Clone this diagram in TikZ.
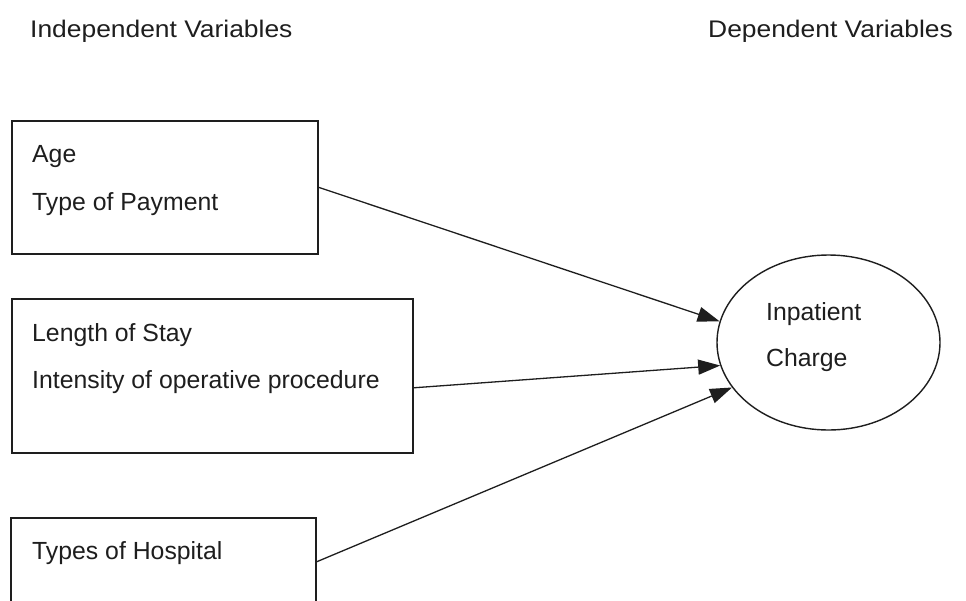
\documentclass[tikz,border=0pt]{standalone}
\usepackage{fontspec}
\setmainfont{Liberation Sans}
\newfontfamily\hdrfont[FakeStretch=1.1]{Liberation Sans}
\usetikzlibrary{shapes.geometric,arrows.meta}
\definecolor{ink}{HTML}{1E1E1E}
\tikzset{
  boxnode/.style={draw=ink, line width=1.6pt, rectangle, anchor=north west, inner sep=0pt},
  lbl/.style={anchor=base west, inner sep=0pt, text=ink, font=\fontsize{24.8}{28}\selectfont},
  hdr/.style={anchor=base west, inner sep=0pt, text=ink, font=\hdrfont\fontsize{24}{28}\selectfont},
  ellnode/.style={draw=ink, line width=1.4pt, ellipse, inner sep=0pt},
  conn/.style={draw=ink, line width=1.3pt, -{Triangle[length=22pt,width=15pt]}}
}
\begin{document}
\begin{tikzpicture}[x=1pt,y=-1pt]
\useasboundingbox (0,0) rectangle (966,600);
\clip (0,0) rectangle (966,600);
\fill[white] (0,0) rectangle (966,600);
% headers
\node[hdr] (h1) at (30,37) {Independent Variables};
\node[hdr] (h2) at (708,37) {Dependent Variables};
% boxes
\node[boxnode, minimum width=306pt, minimum height=133pt] (b1) at (11,120) {};
\node[boxnode, minimum width=401pt, minimum height=154pt] (b2) at (11,298) {};
\node[boxnode, minimum width=305pt, minimum height=110pt] (b3) at (10,517) {};
% box texts
\node[lbl] (t1a) at (32,162) {Age};
\node[lbl] (t1b) at (32,210.5) {Type of Payment};
\node[lbl] (t2a) at (32,341) {Length of Stay};
\node[lbl] (t2b) at (32,388) {Intensity of operative procedure};
\node[lbl] (t3a) at (32,559) {Types of Hospital};
% ellipse
\node[ellnode, minimum width=223pt, minimum height=175pt] (ell) at (828.5,342.5) {};
\node[lbl] (e1) at (766,320) {Inpatient};
\node[lbl] (e2) at (766,366) {Charge};
% connectors
\coordinate (s1) at (b1.east);
\coordinate (s2) at ([yshift=-12pt]b2.east);
\coordinate (s3) at ([yshift=11pt]b3.east);
\draw[conn] (s1) -- (ell.169);
\draw[conn] (s2) -- (ell.192);
\draw[conn] (s3) -- (ell.205);
\end{tikzpicture}
\end{document}
